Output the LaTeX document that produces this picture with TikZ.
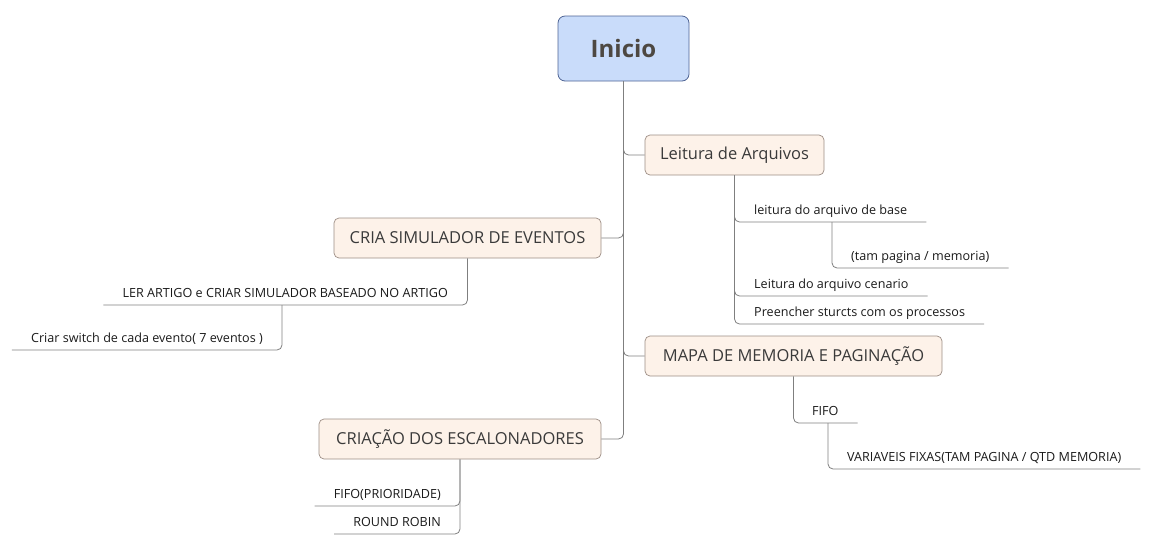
\documentclass[tikz,border=0pt]{standalone}
\usepackage{fontspec}
\setmainfont{Open Sans}
\usetikzlibrary{positioning}
\definecolor{rootfill}{HTML}{C9DCFA}
\definecolor{rootdraw}{HTML}{4F6494}
\definecolor{roottext}{HTML}{4D4842}
\definecolor{topicfill}{HTML}{FDF2E9}
\definecolor{topicdraw}{HTML}{9C8D84}
\definecolor{topictext}{HTML}{3A3A3A}
\definecolor{leaftext}{HTML}{1A1A1A}
\definecolor{linkgray}{HTML}{7F7F7F}

\begin{document}
\begin{tikzpicture}[
    x=1pt, y=-1pt,
    root/.style={draw=rootdraw, fill=rootfill, rounded corners=7pt, line width=0.8pt,
      minimum width=131pt, minimum height=65pt, text=roottext,
      font=\fontsize{24}{28}\selectfont\bfseries},
    topic/.style={draw=topicdraw, fill=topicfill, rounded corners=5pt, line width=0.7pt,
      minimum height=40pt, text=topictext, font=\fontsize{16.5}{19}\selectfont},
    leaf/.style={inner xsep=19pt, inner ysep=4pt, text depth=3pt, text=leaftext,
      font=\fontsize{12.6}{15}\selectfont},
    link/.style={draw=linkgray, line width=0.8pt, rounded corners=5pt},
  ]
    \useasboundingbox (0,0) rectangle (1159,550);
    % central topic
    \node[root] (root) at (623.5,48.5) {Inicio};
    % main topics
    \node[topic, minimum width=179pt] (leitura) at (734.5,155) {Leitura de Arquivos};
    \node[topic, minimum width=267pt] (cria) at (467.5,238) {CRIA SIMULADOR DE EVENTOS};
    \node[topic, minimum width=297pt] (mapa) at (793.5,356) {MAPA DE MEMORIA E PAGINAÇÃO};
    \node[topic, minimum width=282pt] (criacao) at (460,439) {CRIAÇÃO DOS ESCALONADORES};
    \draw[link] (root.south) |- (leitura.west);
    \draw[link] (root.south) |- (cria.east);
    \draw[link] (root.south) |- (mapa.west);
    \draw[link] (root.south) |- (criacao.east);
    % leitura de arquivos
    \node[leaf, anchor=south west] (base) at (735,222) {leitura do arquivo de base};
    \node[leaf, anchor=south west] (tam) at (832,268) {(tam pagina / memoria)};
    \node[leaf, anchor=south west] (cenario) at (735,296) {Leitura do arquivo cenario};
    \node[leaf, anchor=south west] (structs) at (735,324) {Preencher sturcts com os processos};
    \draw[link] (leitura.south) |- (base.south east);
    \draw[link] (tam.south west |- base.south) |- (tam.south east);
    \draw[link] (leitura.south) |- (cenario.south east);
    \draw[link] (leitura.south) |- (structs.south east);
    % simulador de eventos
    \node[leaf, anchor=south east] (ler) at (467,305) {LER ARTIGO e CRIAR SIMULADOR BASEADO NO ARTIGO};
    \node[leaf, anchor=south east] (switch) at (282,350) {Criar switch de cada evento( 7 eventos )};
    \draw[link] (cria.south) |- (ler.south west);
    \draw[link] (switch.south east |- ler.south) |- (switch.south west);
    % mapa de memoria
    \node[leaf, anchor=south west] (fifo) at (793,423) {FIFO};
    \node[leaf, anchor=south west] (fixas) at (828,469) {VARIAVEIS FIXAS(TAM PAGINA / QTD MEMORIA)};
    \draw[link] (mapa.south) |- (fifo.south east);
    \draw[link] (fixas.south west |- fifo.south) |- (fixas.south east);
    % escalonadores
    \node[leaf, anchor=south east] (prio) at (460,506) {FIFO(PRIORIDADE)};
    \node[leaf, anchor=south east] (rr) at (460,534) {ROUND ROBIN};
    \draw[link] (criacao.south) |- (prio.south west);
    \draw[link] (criacao.south) |- (rr.south west);
\end{tikzpicture}
\end{document}
